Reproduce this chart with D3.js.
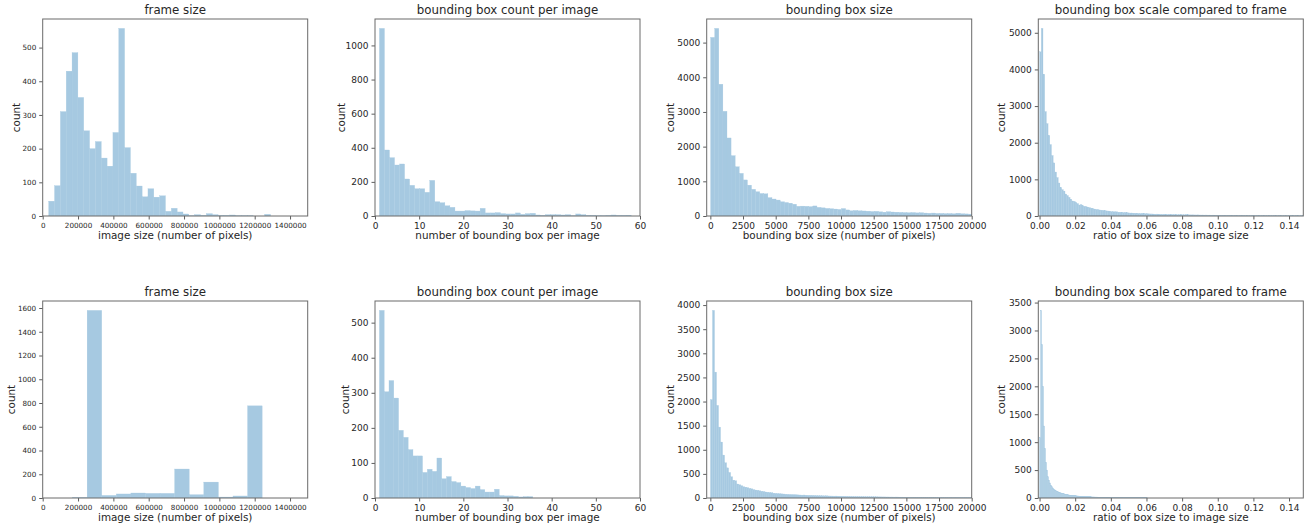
<!DOCTYPE html>
<html>
<head>
<meta charset="utf-8">
<script src="https://cdn.jsdelivr.net/npm/d3@7"></script>
<style>
  html, body { margin: 0; padding: 0; background: #fff; }
  svg { display: block; font-family: "DejaVu Sans", sans-serif; }
</style>
</head>
<body>
<svg id="chart" width="1315" height="529"></svg>
<script>
// ---------------- DATA ----------------
// Titles and axis labels
const titles = ["frame size", "bounding box count per image", "bounding box size", "bounding box scale compared to frame"];
const xLabels = ["image size (number of pixels)", "number of bounding box per image", "bounding box size (number of pixels)", "ratio of box size to image size"];
const yLabel = "count";

// Histogram bins: [start, width]
const binsFrameTop = [34000, 33050];
const binsCountTop = [1, 1.14];
const binsBoxTop = [20, 313];
const binsRatioTop = [0.00003, 0.00095];
const binsFrameBottom = [169000, 82550];
const binsCountBottom = [1, 1.085];
const binsBoxBottom = [10, 154];
const binsRatioBottom = [0.0, 0.00056];

// Counts (top row)
const frameSizeTop = [44, 90, 310, 430, 485, 352, 253, 200, 221, 172, 148, 248, 557, 203, 127, 89, 57, 81, 56, 60,
  14, 23, 12, 6, 1, 4, 2, 7, 4, 2, 2, 3, 1, 1, 1, 0, 0, 5];
const boxCountTop = [1100, 387, 342, 299, 305, 217, 180, 160, 160, 139, 209, 84, 78, 60, 51, 29, 29, 32, 30, 29,
  45, 18, 18, 20, 14, 12, 12, 18, 10, 14, 16, 6, 4, 8, 8, 8, 6, 8, 2, 12, 8, 4, 4, 2, 2, 4, 6, 4, 4, 5];
const boxSizeTop = [5150, 5410, 3800, 3020, 2250, 1740, 1420, 1230, 1040, 890, 770, 700, 650, 640, 530, 490, 460, 410, 390, 370,
  340, 280, 285, 280, 270, 290, 250, 235, 220, 210, 200, 190, 215, 175, 150, 160, 150, 145, 140, 130,
  135, 120, 110, 125, 115, 110, 105, 100, 95, 100, 90, 95, 85, 80, 85, 75, 75, 70, 72, 65, 80, 65, 60, 55];
const boxRatioTop = [4480, 5120, 3870, 2850, 2520, 2200, 1950, 1650, 1450, 1200, 1050, 900, 780, 720, 680, 600, 560, 510, 460, 410, 400, 370, 340, 300, 310, 280,
  265, 255, 240, 230, 215, 200, 190, 180, 170, 165, 160, 150, 148, 140, 135, 125,
  120, 118, 112, 115, 105, 100, 102, 95, 92, 90, 85, 80, 82, 78, 75, 72, 70, 68, 66, 62, 64, 60,
  58, 56, 55, 52, 50, 52, 48, 47, 45, 44, 46, 42, 41, 40, 42, 38, 37, 36, 38, 35, 34, 33,
  34, 32, 31, 30, 31, 29, 28, 30, 27, 26, 27, 25, 26, 24, 25, 23, 24, 22, 23, 21, 22, 20,
  21, 20, 19, 21, 18, 19, 17, 18, 19, 16, 17, 16, 18, 15, 16, 15, 14, 16, 15, 14, 13, 15,
  14, 13, 12, 14, 13, 12, 13, 11, 12, 12, 11, 13, 10, 11, 12, 10, 11, 10, 9, 11, 10, 9, 10, 9, 8, 9];

// Counts (bottom row)
const frameSizeBottom = [5, 1580, 22, 34, 42, 39, 39, 244, 28, 134, 8, 17, 776];
const boxCountBottom = [535, 303, 335, 285, 193, 173, 138, 120, 120, 73, 82, 76, 114, 55, 61, 47, 44, 34, 30, 27,
  34, 24, 17, 17, 25, 7, 6, 6, 5, 3, 4, 4];
const boxSizeBottom = [2040, 3890, 2610, 1920, 1470, 1160, 890, 730, 625, 530, 440, 370, 357, 290, 275, 255, 234,
  225, 215, 200, 190, 175, 165, 160, 150, 140, 135, 125, 120, 115, 110, 100, 96,
  92, 88, 85, 82, 78, 75, 72, 70, 68, 66, 64, 62, 60, 62, 58, 56,
  55, 54, 52, 50, 48, 47, 46, 44, 45, 42, 41, 40, 39, 40, 38, 37,
  36, 35, 34, 33, 32, 31, 30, 30, 29, 28, 28, 27, 26, 26, 25, 25,
  24, 24, 23, 23, 22, 22, 21, 21, 20, 20, 19, 20, 19, 18, 18, 17,
  17, 17, 16, 16, 16, 15, 15, 15, 14, 14, 14, 13, 14, 13, 13, 12,
  12, 12, 12, 11, 11, 11, 12, 10, 11, 10, 10, 10, 9, 10, 9, 9, 9];
const boxRatioBottom = [1080, 3360, 2750, 2000, 1290, 890, 640, 500, 380, 320, 270, 230, 200, 180, 160, 145, 130, 120,
  112, 105, 98, 92, 86, 80, 75, 70, 66, 62, 58, 55, 52, 50, 47, 45, 43, 41,
  40, 38, 36, 35, 33, 32, 31, 30, 28, 27, 26, 25, 24, 23, 22, 21, 20, 19,
  19, 18, 17, 17, 16, 15, 15, 14, 14, 13, 13, 12, 12, 11, 11, 11, 10, 10,
  10, 9, 9, 9, 8, 8, 8, 8, 7, 7, 7, 7, 6, 6, 6, 6, 6, 5,
  5, 5, 5, 5, 5, 4, 4, 4, 4, 4, 4, 3, 3, 3, 3, 3, 3, 3];

// Axis ticks
const xTicksFrame = [0, 200000, 400000, 600000, 800000, 1000000, 1200000, 1400000];
const xTicksCount = [0, 10, 20, 30, 40, 50, 60];
const xTicksBox = [0, 2500, 5000, 7500, 10000, 12500, 15000, 17500, 20000];
const xTicksRatio = [0, 0.02, 0.04, 0.06, 0.08, 0.10, 0.12, 0.14];
const yTicksFrameTop = [0, 100, 200, 300, 400, 500];
const yTicksCountTop = [0, 200, 400, 600, 800, 1000];
const yTicksBoxTop = [0, 1000, 2000, 3000, 4000, 5000];
const yTicksRatioTop = [0, 1000, 2000, 3000, 4000, 5000];
const yTicksFrameBottom = [0, 200, 400, 600, 800, 1000, 1200, 1400, 1600];
const yTicksCountBottom = [0, 100, 200, 300, 400, 500];
const yTicksBoxBottom = [0, 500, 1000, 1500, 2000, 2500, 3000, 3500, 4000];
const yTicksRatioBottom = [0, 500, 1000, 1500, 2000, 2500, 3000, 3500];

// X ranges shown
const xDomainFrame = [0, 1500000];
const xDomainCount = [0, 60];
const xDomainBox = [-280, 20000];
const xDomainRatio = [-0.0007, 0.1480];

// ---------------- LAYOUT ----------------
const colLeft = [42.7, 375, 706.7, 1038.3];
const rowTop = [19, 301];
const panelW = 265, panelH = 197;
const yLabelOffset = [[26, 34, 36.5, 36.5], [31, 30, 36.5, 36.5]];
const barColor = "#a6c9e1";
const spineColor = "#6a6a6a";
const textColor = "#262626";

const panels = [
  {row: 0, col: 0, counts: frameSizeTop, bins: binsFrameTop, xd: xDomainFrame, xt: xTicksFrame, yt: yTicksFrameTop, fmt: d3.format("d")},
  {row: 0, col: 1, counts: boxCountTop, bins: binsCountTop, xd: xDomainCount, xt: xTicksCount, yt: yTicksCountTop, fmt: d3.format("d")},
  {row: 0, col: 2, counts: boxSizeTop, bins: binsBoxTop, xd: xDomainBox, xt: xTicksBox, yt: yTicksBoxTop, fmt: d3.format("d")},
  {row: 0, col: 3, counts: boxRatioTop, bins: binsRatioTop, xd: xDomainRatio, xt: xTicksRatio, yt: yTicksRatioTop, fmt: d3.format(".2f")},
  {row: 1, col: 0, counts: frameSizeBottom, bins: binsFrameBottom, xd: xDomainFrame, xt: xTicksFrame, yt: yTicksFrameBottom, fmt: d3.format("d")},
  {row: 1, col: 1, counts: boxCountBottom, bins: binsCountBottom, xd: xDomainCount, xt: xTicksCount, yt: yTicksCountBottom, fmt: d3.format("d")},
  {row: 1, col: 2, counts: boxSizeBottom, bins: binsBoxBottom, xd: xDomainBox, xt: xTicksBox, yt: yTicksBoxBottom, fmt: d3.format("d")},
  {row: 1, col: 3, counts: boxRatioBottom, bins: binsRatioBottom, xd: xDomainRatio, xt: xTicksRatio, yt: yTicksRatioBottom, fmt: d3.format(".2f")}
];

const svg = d3.select("#chart");
svg.append("rect").attr("width", 1315).attr("height", 529).attr("fill", "#fff");

panels.forEach((p, idx) => {
  const g = svg.append("g").attr("transform", `translate(${colLeft[p.col]},${rowTop[p.row]})`);
  const x = d3.scaleLinear().domain(p.xd).range([0, panelW]);
  const ymax = d3.max(p.counts) * 1.05;
  const y = d3.scaleLinear().domain([0, ymax]).range([panelH, 0]);
  const tickFont = p.col === 0 ? 7.2 : 9;

  const clipId = "clip" + idx;
  g.append("clipPath").attr("id", clipId)
    .append("rect").attr("width", panelW).attr("height", panelH);

  const [start, width] = p.bins;
  g.append("g").attr("clip-path", `url(#${clipId})`)
    .selectAll("rect").data(p.counts).join("rect")
    .attr("x", (d, i) => x(start + i * width))
    .attr("width", (d, i) => x(start + (i + 1) * width) - x(start + i * width))
    .attr("y", d => y(d))
    .attr("height", d => panelH - y(d))
    .attr("fill", barColor)
    .attr("stroke", barColor)
    .attr("stroke-width", 0.3);

  const xa = g.append("g").attr("transform", `translate(0,${panelH})`)
    .call(d3.axisBottom(x).tickValues(p.xt).tickFormat(p.fmt).tickSize(3.5).tickPadding(3).tickSizeOuter(0));
  const ya = g.append("g")
    .call(d3.axisLeft(y).tickValues(p.yt).tickFormat(d3.format("d")).tickSize(3.5).tickPadding(3).tickSizeOuter(0));
  [xa, ya].forEach(a => {
    a.select(".domain").remove();
    a.selectAll(".tick line").attr("stroke", "#333").attr("stroke-width", 0.8);
    a.selectAll(".tick text").attr("fill", textColor)
      .style("font-size", tickFont + "px")
      .style("font-family", "DejaVu Sans, sans-serif");
  });

  g.append("rect").attr("width", panelW).attr("height", panelH)
    .attr("fill", "none").attr("stroke", spineColor).attr("stroke-width", 1);

  g.append("text").attr("x", panelW / 2).attr("y", -5)
    .attr("text-anchor", "middle").attr("fill", textColor)
    .style("font-size", "11.8px").text(titles[p.col]);

  g.append("text").attr("x", panelW / 2).attr("y", panelH + 23)
    .attr("text-anchor", "middle").attr("fill", textColor)
    .style("font-size", "10.4px").text(xLabels[p.col]);

  g.append("text")
    .attr("transform", `translate(${-yLabelOffset[p.row][p.col] + 3.5},${panelH / 2}) rotate(-90)`)
    .attr("text-anchor", "middle").attr("fill", textColor)
    .style("font-size", "10.4px").text(yLabel);
});
</script>
</body>
</html>
